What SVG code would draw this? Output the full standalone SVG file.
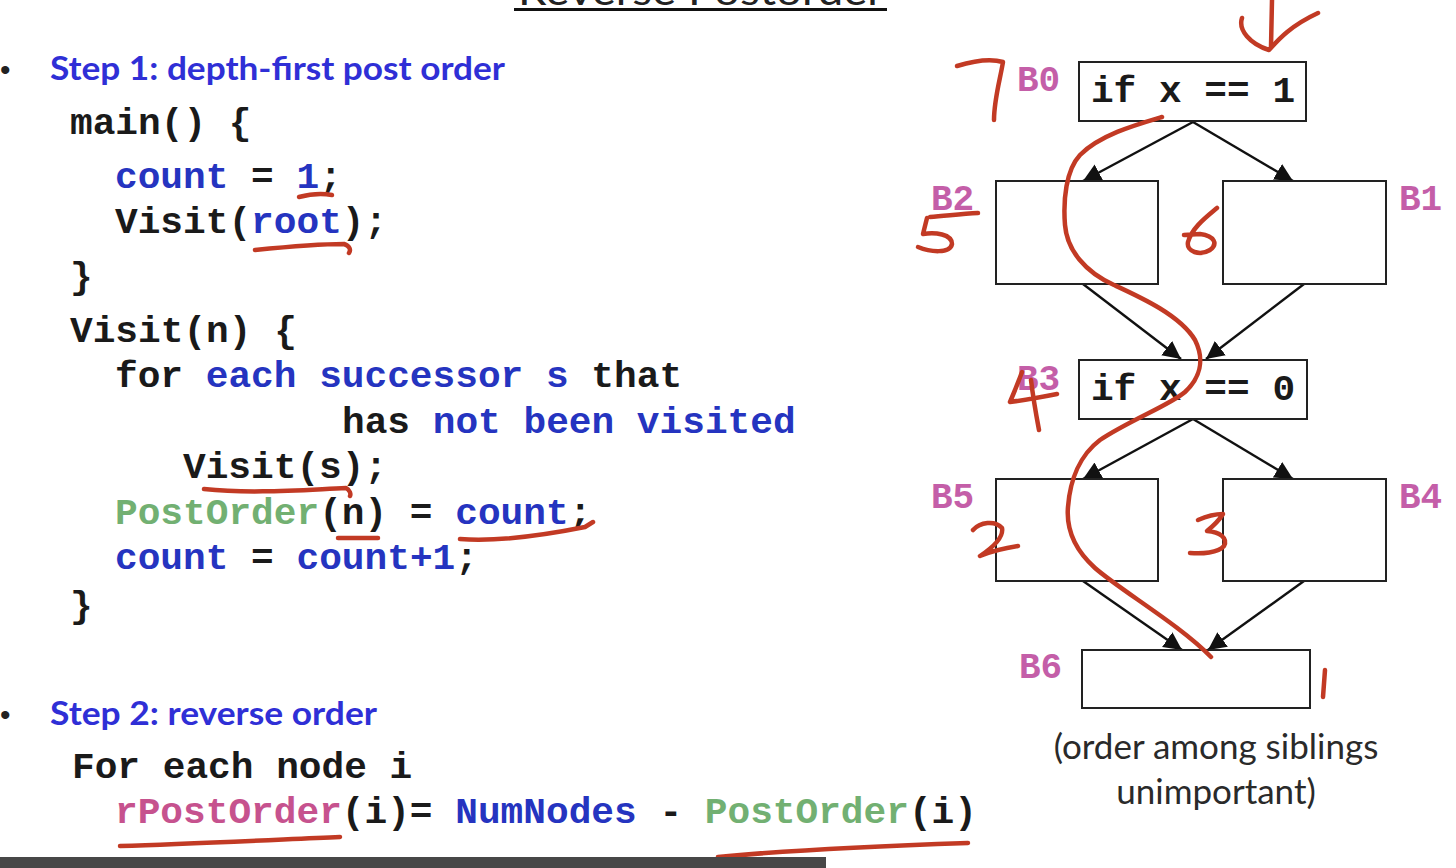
<svg xmlns="http://www.w3.org/2000/svg" width="1456" height="868" viewBox="0 0 1456 868">
<defs>
<style>
.code{font-family:"Liberation Mono","DejaVu Sans Mono",monospace;font-size:37.8px;font-weight:bold;fill:#1a1a1a;white-space:pre}
.b{fill:#2534c0}
.g{fill:#72b072}
.p{fill:#c6528e}
.head{font-family:Lato,"Open Sans","Liberation Sans",sans-serif;font-weight:bold;font-size:32px;fill:#2f2fd6}
.bul{font-family:"Liberation Sans",sans-serif;font-size:30px;fill:#222}
.lbl{font-family:"Liberation Mono","DejaVu Sans Mono",monospace;font-weight:bold;font-size:36px;fill:#c45ea8}
.box{fill:#fff;stroke:#222;stroke-width:2}
.edge{stroke:#111;stroke-width:2.4;fill:none;marker-end:url(#ah)}
.ink{stroke:#c23a24;stroke-width:4.5;fill:none;stroke-linecap:round;stroke-linejoin:round}
.note{font-family:Lato,"Open Sans","Liberation Sans",sans-serif;font-size:35px;fill:#2a2a2a;text-anchor:middle}
</style>
<marker id="ah" markerUnits="userSpaceOnUse" markerWidth="20" markerHeight="20" refX="18" refY="10" orient="auto">
<path d="M0,1 L18,10 L0,19 z" fill="#111"/>
</marker>
</defs>
<rect width="1456" height="868" fill="#fff"/>

<!-- title (cut off at the top edge, as in the reference) -->
<text x="518" y="5" font-family="Lato,'Liberation Sans',sans-serif" font-size="40" fill="#222" textLength="366" lengthAdjust="spacingAndGlyphs">Reverse Postorder</text>
<rect x="514" y="8" width="373" height="3" fill="#111"/>

<!-- left text -->
<g id="step1">
<text class="bul" x="0" y="80">•</text>
<text class="head" x="50" y="80" textLength="455" lengthAdjust="spacingAndGlyphs">Step 1: depth-first post order</text>
</g>
<g id="code1">
<text class="code" x="70" y="134">main() {</text>
<text class="code" x="115" y="188"><tspan class="b">count</tspan> = <tspan class="b">1</tspan>;</text>
<text class="code" x="115" y="233">Visit(<tspan class="b">root</tspan>);</text>
<text class="code" x="70" y="288">}</text>
<text class="code" x="70" y="342">Visit(n) {</text>
<text class="code" x="115" y="387">for <tspan class="b">each successor s</tspan> that</text>
<text class="code" x="342" y="433">has <tspan class="b">not been visited</tspan></text>
<text class="code" x="183" y="478">Visit(s);</text>
<text class="code" x="115" y="524"><tspan class="g">PostOrder</tspan>(n) = <tspan class="b">count</tspan>;</text>
<text class="code" x="115" y="569"><tspan class="b">count</tspan> = <tspan class="b">count+1</tspan>;</text>
<text class="code" x="70" y="617">}</text>
</g>
<g id="step2">
<text class="bul" x="0" y="725">•</text>
<text class="head" x="50" y="725" textLength="327" lengthAdjust="spacingAndGlyphs">Step 2: reverse order</text>
<text class="code" x="72" y="778">For each node i</text>
<text class="code" x="115" y="823"><tspan class="p">rPostOrder</tspan>(i)= <tspan class="b">NumNodes</tspan> - <tspan class="g">PostOrder</tspan>(i)</text>
</g>

<!-- connectors -->
<g id="edges">
<line class="edge" x1="1193" y1="122" x2="1083" y2="181"/>
<line class="edge" x1="1193" y1="122" x2="1293" y2="181"/>
<line class="edge" x1="1083" y1="284" x2="1181" y2="359"/>
<line class="edge" x1="1304" y1="284" x2="1206" y2="359"/>
<line class="edge" x1="1193" y1="419" x2="1083" y2="479"/>
<line class="edge" x1="1193" y1="419" x2="1293" y2="479"/>
<line class="edge" x1="1083" y1="581" x2="1182" y2="650"/>
<line class="edge" x1="1304" y1="581" x2="1208" y2="650"/>
</g>

<!-- nodes -->
<g id="B0">
<rect class="box" x="1079" y="62" width="227" height="59"/>
<text class="code" x="1193" y="102" text-anchor="middle">if x == 1</text>
<text class="lbl" x="1017" y="91">B0</text>
</g>
<g id="B2">
<rect class="box" x="996" y="181" width="162" height="103"/>
<text class="lbl" x="931" y="210">B2</text>
</g>
<g id="B1">
<rect class="box" x="1223" y="181" width="163" height="103"/>
<text class="lbl" x="1399" y="210">B1</text>
</g>
<g id="B3">
<rect class="box" x="1079" y="360" width="228" height="59"/>
<text class="code" x="1193" y="400" text-anchor="middle">if x == 0</text>
<text class="lbl" x="1017" y="390">B3</text>
</g>
<g id="B5">
<rect class="box" x="996" y="479" width="162" height="102"/>
<text class="lbl" x="931" y="508">B5</text>
</g>
<g id="B4">
<rect class="box" x="1223" y="479" width="163" height="102"/>
<text class="lbl" x="1399" y="508">B4</text>
</g>
<g id="B6">
<rect class="box" x="1082" y="650" width="228" height="58"/>
<text class="lbl" x="1019" y="678">B6</text>
</g>

<text class="note" x="1216" y="759">(order among siblings</text>
<text class="note" x="1216" y="804">unimportant)</text>

<!-- handwriting -->
<g id="ink">
<path class="ink" d="M1272,0 L1271,47"/>
<path class="ink" d="M1242,18 C1238,30 1250,44 1269,50 C1278,40 1290,26 1318,13"/>
<path class="ink" d="M957,66 C970,62 990,58 1003,62 C1000,80 994,100 994,120"/>
<path class="ink" d="M978,213 C960,214 945,216 930,217 M927,218 L923,234 C935,232 952,234 952,244 C950,254 930,252 918,247"/>
<path class="ink" d="M1217,208 C1205,218 1192,228 1188,242 C1186,252 1200,256 1210,250 C1218,244 1215,236 1200,234 L1184,235"/>
<path class="ink" d="M1022,372 C1018,383 1013,395 1010,402 C1025,400 1042,397 1057,394 M1031,380 C1033,397 1036,414 1039,430"/>
<path class="ink" d="M973,530 C980,522 995,520 1002,528 C1004,538 992,548 980,556 C992,551 1005,548 1018,546"/>
<path class="ink" d="M1198,520 C1207,516 1216,514 1223,514 C1218,522 1212,527 1207,531 C1220,532 1228,538 1224,546 C1218,553 1202,554 1190,553"/>
<path class="ink" d="M1325,670 L1323,697"/>
<path class="ink" d="M1162,117 C1135,125 1100,135 1080,155 C1066,170 1063,200 1065,225 C1067,250 1085,272 1114,285 C1140,297 1180,315 1195,340 C1205,360 1200,378 1185,392 C1170,405 1130,420 1100,440 C1080,455 1070,480 1068,507 C1066,530 1075,550 1095,568 C1120,590 1180,625 1211,657"/>
<path class="ink" d="M299,197 C310,194 322,193 332,195"/>
<path class="ink" d="M255,250 C285,247 320,244 344,244 C350,246 351,250 349,253"/>
<path class="ink" d="M204,489 C250,494 300,490 346,488 C350,490 351,494 350,496"/>
<path class="ink" d="M338,538 L378,538"/>
<path class="ink" d="M460,539 C500,542 550,534 585,527 L593,522"/>
<path class="ink" d="M120,846 C190,844 270,840 340,837"/>
<path class="ink" d="M718,857 C790,850 880,846 968,843"/>
</g>

<!-- caption bar (cut off) -->
<rect x="0" y="857" width="826" height="11" fill="#474747"/>
</svg>
